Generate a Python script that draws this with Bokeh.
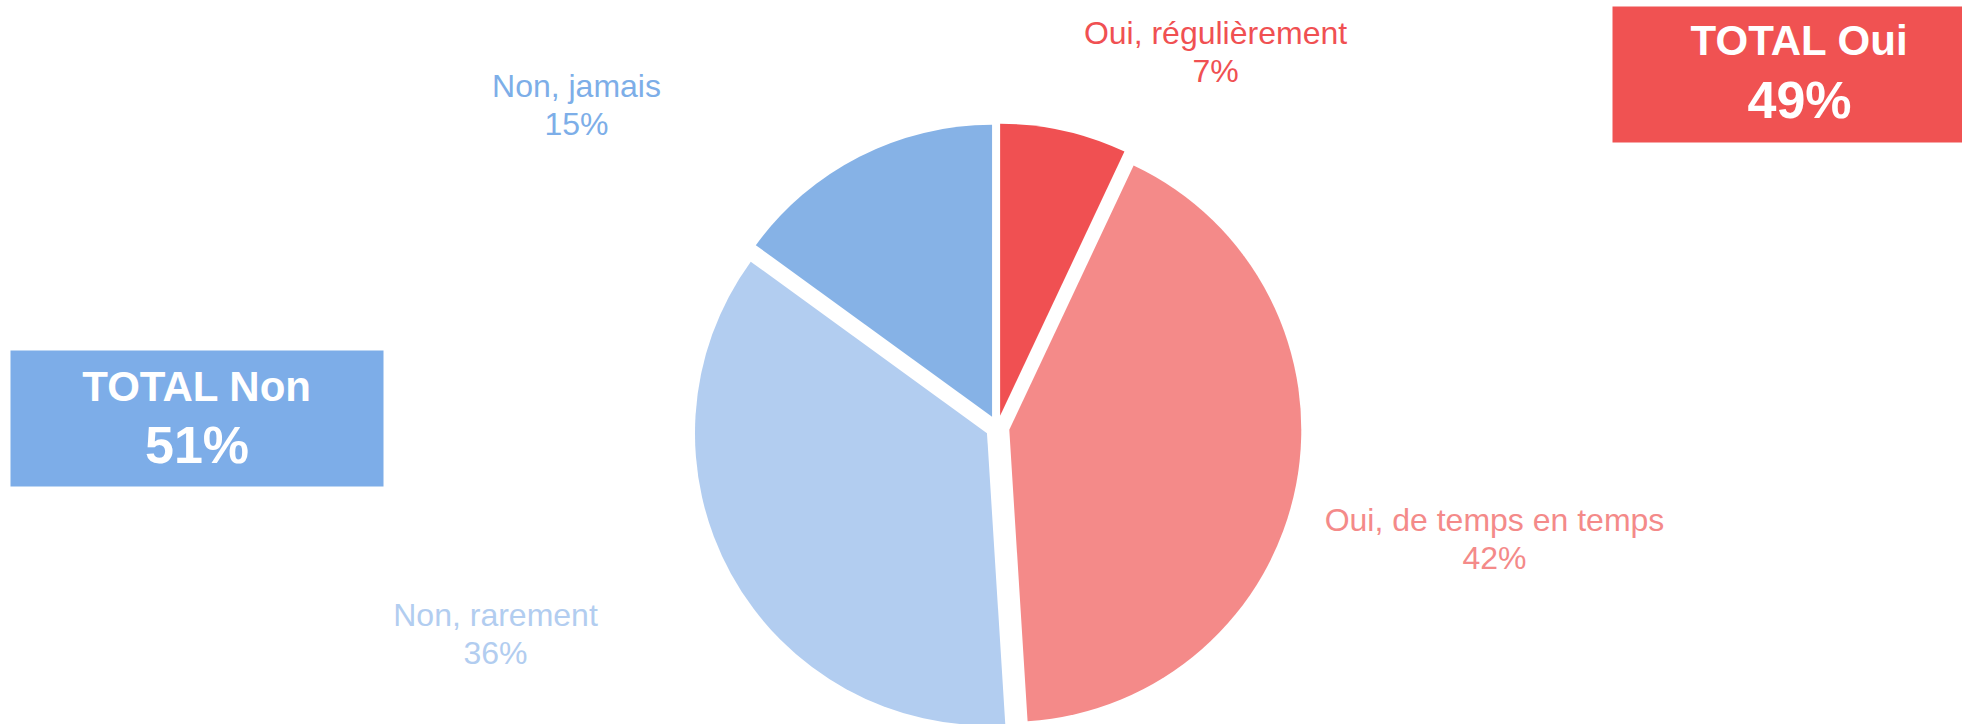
import math
from bokeh.plotting import figure
from bokeh.models import Range1d, ColumnDataSource
from bokeh.core.properties import value
from bokeh.embed import file_html
from bokeh.resources import INLINE

# ---- data ----
categories = ["Oui, régulièrement", "Oui, de temps en temps", "Non, rarement", "Non, jamais"]
values = [7, 42, 36, 15]
slice_colors = ["#F05052", "#F48A89", "#B2CDF0", "#86B2E6"]
label_colors = ["#F05052", "#F48A89", "#B2CDF0", "#7DAEE8"]
total_labels = ["TOTAL Oui", "TOTAL Non"]
total_values = [49, 51]
total_colors = ["#F05252", "#7DADE8"]

# ---- layout (reference pixel coordinates, y downward) ----
W, H = 1962, 724
CX, CY, R, EXPLODE = 997, 427, 292, 12
label_pos = [(1215, 45), (1494, 532), (495, 627), (576, 98)]   # centre x, baseline of name
LINE2 = 38
box_pos = [(1612, 1986, 6, 142), (10, 383, 350, 486)]           # left, right, top, bottom
title_off = [51, 53]
pct_off = [114, 115]
FONT = "Liberation Sans"
FS_LAB, FS_TOT, FS_PCT = 32, 42, 52
SHIFT = 0.4  # baseline correction, fraction of font size

def Y(y):
    return H - y

def YB(baseline, fs):
    return H - (baseline - SHIFT * fs)

p = figure(width=W, height=H, x_range=Range1d(0, W), y_range=Range1d(0, H),
           output_backend="svg", toolbar_location=None, min_border=0)
p.axis.visible = False
p.grid.visible = False
p.outline_line_color = None
p.background_fill_color = "white"
p.border_fill_color = "white"

# ---- pie ----
total = sum(values)
xs, ys, starts, ends = [], [], [], []
cum = 0.0
for v in values:
    a0 = cum / total * 2 * math.pi
    a1 = (cum + v) / total * 2 * math.pi
    mid = (a0 + a1) / 2
    xs.append(CX + EXPLODE * math.sin(mid))
    ys.append(Y(CY) + EXPLODE * math.cos(mid))
    starts.append(math.pi / 2 - a0)
    ends.append(math.pi / 2 - a1)
    cum += v

pie_src = ColumnDataSource(dict(x=xs, y=ys, start=starts, end=ends, color=slice_colors))
p.wedge(x="x", y="y", radius=R, start_angle="start", end_angle="end", direction="clock",
        fill_color="color", line_color=None, source=pie_src)

# ---- slice labels ----
lab_src = ColumnDataSource(dict(
    x=[lp[0] for lp in label_pos],
    y1=[YB(lp[1], FS_LAB) for lp in label_pos],
    y2=[YB(lp[1] + LINE2, FS_LAB) for lp in label_pos],
    name=categories,
    pct=[f"{v}%" for v in values],
    color=label_colors,
))
p.text(x="x", y="y1", text="name", text_color="color", source=lab_src,
       text_align="center", text_baseline="alphabetic",
       text_font=value(FONT), text_font_size=f"{FS_LAB}px")
p.text(x="x", y="y2", text="pct", text_color="color", source=lab_src,
       text_align="center", text_baseline="alphabetic",
       text_font=value(FONT), text_font_size=f"{FS_LAB}px")

# ---- total boxes ----
box_src = ColumnDataSource(dict(
    left=[b[0] for b in box_pos], right=[b[1] for b in box_pos],
    top=[Y(b[2]) for b in box_pos], bottom=[Y(b[3]) for b in box_pos],
    cx=[(b[0] + b[1]) / 2 for b in box_pos],
    y1=[YB(b[2] + o, FS_TOT) for b, o in zip(box_pos, title_off)],
    y2=[YB(b[2] + o, FS_PCT) for b, o in zip(box_pos, pct_off)],
    label=total_labels, pct=[f"{v}%" for v in total_values], color=total_colors,
))
p.quad(left="left", right="right", top="top", bottom="bottom", fill_color="color",
       line_color=None, source=box_src)
p.text(x="cx", y="y1", text="label", text_color="white", source=box_src,
       text_align="center", text_baseline="alphabetic",
       text_font=value(FONT), text_font_size=f"{FS_TOT}px", text_font_style="bold")
p.text(x="cx", y="y2", text="pct", text_color="white", source=box_src,
       text_align="center", text_baseline="alphabetic",
       text_font=value(FONT), text_font_size=f"{FS_PCT}px", text_font_style="bold")

open("out.html", "w").write(file_html(p, INLINE))
